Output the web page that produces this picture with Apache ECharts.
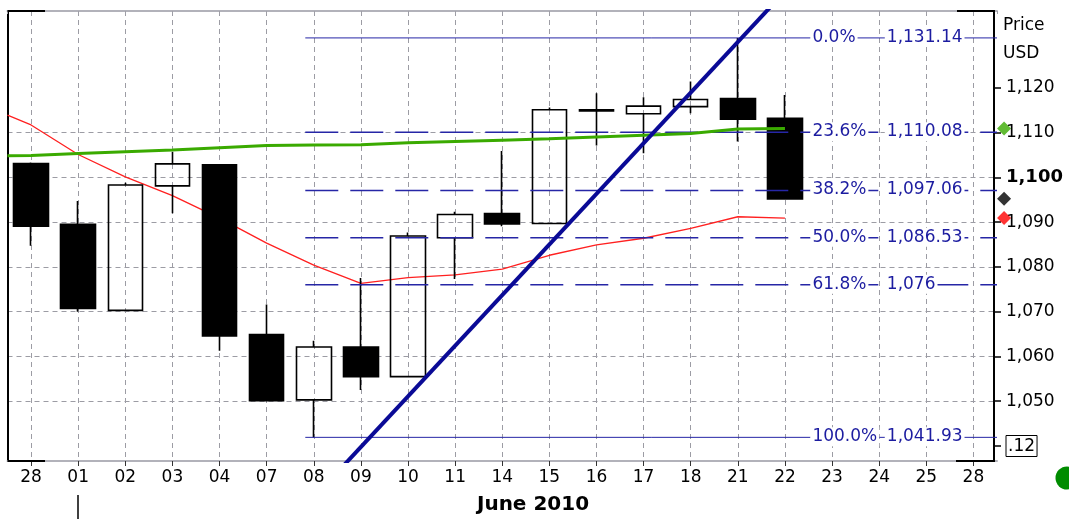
<!DOCTYPE html>
<html>
<head>
<meta charset="utf-8">
<script src="https://cdn.jsdelivr.net/npm/echarts@6/dist/echarts.min.js"></script>
<style>
html,body{margin:0;padding:0;background:#fff;}
#chart{width:1069px;height:519px;}
</style>
</head>
<body>
<div id="chart"></div>
<script>
// ---- data ----
const categories = ['28','01','02','03','04','07','08','09','10','11','14','15','16','17','18','21','22','23','24','25','28'];
const opens  = [1103.1, 1089.5, 1070.3, 1098.1, 1102.8, 1064.9, 1050.3, 1062.1, 1055.5, 1086.5, 1091.9, 1089.7, 1115.1, 1114.2, 1115.8, 1117.6, 1113.2];
const closes = [1089.1, 1070.7, 1098.3, 1103.0, 1064.6, 1050.1, 1062.1, 1055.5, 1086.9, 1091.7, 1089.6, 1115.1, 1114.8, 1115.9, 1117.4, 1113.0, 1095.2];
const lows   = [1084.7, 1070.0, 1070.3, 1092.0, 1061.3, 1050.0, 1041.9, 1052.5, 1055.5, 1077.3, 1089.1, 1089.7, 1107.1, 1105.4, 1114.3, 1108.0, 1095.2];
const highs  = [1103.3, 1094.7, 1098.8, 1105.7, 1102.8, 1071.6, 1063.5, 1077.5, 1087.7, 1092.3, 1105.9, 1115.6, 1118.8, 1117.9, 1121.4, 1131.1, 1118.4];
// moving averages; first value sits at the left edge of the plot (x = -0.5)
const smaLong  = [1104.8, 1104.9, 1105.3, 1105.7, 1106.1, 1106.6, 1107.1, 1107.2, 1107.3, 1107.7, 1108.0, 1108.3, 1108.6, 1109.0, 1109.4, 1109.8, 1110.8, 1110.9];
const smaShort = [1113.9, 1111.7, 1105.1, 1100.1, 1095.9, 1090.9, 1085.3, 1080.4, 1076.3, 1077.6, 1078.2, 1079.5, 1082.6, 1084.9, 1086.4, 1088.6, 1091.2, 1090.9];
// fibonacci retracement
const fibLevels = [1131.14, 1110.08, 1097.06, 1086.53, 1076, 1041.93];
const fibPct    = ['0.0%', '23.6%', '38.2%', '50.0%', '61.8%', '100.0%'];
const fibText   = ['1,131.14', '1,110.08', '1,097.06', '1,086.53', '1,076', '1,041.93'];
const fibSolid  = [true, false, false, false, false, true];
const fibStartX = 5.82;
const fibPctX = 16.55, fibValX = 18.13;
// trend line anchors [index, price]
const trendAnchors = [[7.19, 1041.93], [15.08, 1131.14]];
// y axis ticks
const yTicks = [1040, 1050, 1060, 1070, 1080, 1090, 1100, 1110, 1120];
const yMin = 1036.65, yMax = 1137.15;
const markerX = 20.65;

// ---- build ----
const FONT = 'DejaVu Sans';
const ohlc = categories.map((c, i) => i < opens.length ? [opens[i], closes[i], lows[i], highs[i]] : '-');
const xOf = i => (i === 0 ? -0.5 : i - 1);
const greenData = smaLong.map((v, i) => [xOf(i), v]);
const redData = smaShort.map((v, i) => [xOf(i), v]);
const slope = (trendAnchors[1][1] - trendAnchors[0][1]) / (trendAnchors[1][0] - trendAnchors[0][0]);
const tx0 = 6, tx1 = 17;
const trendData = [[tx0, trendAnchors[0][1] + (tx0 - trendAnchors[0][0]) * slope],
                   [tx1, trendAnchors[0][1] + (tx1 - trendAnchors[0][0]) * slope]];
const FIB = '#2626a6';
const FIBTXT = '#1c1ca0';

function fmtNum(v) { return String(v).replace(/\B(?=(\d{3})+(?!\d))/g, ','); }

const fibSeries = fibLevels.map((v, i) => ({
  type: 'line', xAxisIndex: 1, yAxisIndex: 0, z: 3, silent: true, symbol: 'none',
  data: [[fibStartX, v], [20.5, v]],
  lineStyle: { color: FIB, width: fibSolid[i] ? 1 : 1.5, type: fibSolid[i] ? 'solid' : [33, 12] }
}));
const labelStyle = { show: true, position: [0, 0], align: 'left', verticalAlign: 'middle', opacity: 1,
  color: FIBTXT, fontSize: 17, fontFamily: FONT, backgroundColor: '#fff', padding: [1, 2] };

const option = {
  animation: false,
  backgroundColor: '#fff',
  grid: { left: 7.5, top: 11, width: 989.5, height: 450, show: false, outerBoundsMode: 'none', containLabel: false },
  xAxis: [
    { type: 'category', data: categories, position: 'bottom', boundaryGap: true,
      axisLine: { show: true, lineStyle: { color: '#b2b2ba', width: 2 } },
      axisTick: { show: true, alignWithLabel: true, length: 5, lineStyle: { color: '#333' } },
      axisLabel: { interval: 0, color: '#000', fontSize: 17, fontFamily: FONT, margin: 8 },
      splitLine: { show: false } },
    { type: 'value', min: -0.5, max: 20.5, splitNumber: 21, position: 'top',
      axisLine: { show: true, onZero: false, lineStyle: { color: '#b2b2ba', width: 2 } },
      axisTick: { show: true, inside: true, length: 3, lineStyle: { color: '#a0a0a8' } },
      axisLabel: { show: false },
      splitLine: { show: true, showMinLine: false, showMaxLine: false, lineStyle: { color: '#9c9ca4', type: [5, 4], width: 1 } } }
  ],
  yAxis: [
    { type: 'value', position: 'right', offset: -3, min: yMin, max: yMax, splitNumber: 10,
      axisLine: { show: true, onZero: false, lineStyle: { color: '#000', width: 2 } },
      axisTick: { show: true, length: 7, customValues: yTicks, lineStyle: { color: '#000', width: 1.5 } },
      axisLabel: { customValues: yTicks, margin: 12, color: '#000', fontSize: 17, fontFamily: FONT,
        formatter: v => v === 1100 ? '{b|1,100}' : (v === 1040 ? '{box|.12}' : fmtNum(v)),
        rich: { b: { fontWeight: 'bold', fontSize: 18, fontFamily: FONT, color: '#000' },
                box: { fontSize: 17, fontFamily: FONT, color: '#000', borderColor: '#000', borderWidth: 1, padding: [3, 2, 1, 2] } } },
      splitLine: { show: true, showMinLine: false, showMaxLine: false, lineStyle: { color: '#9c9ca4', type: [5, 4], width: 1 } } },
    { type: 'value', position: 'left', min: yMin, max: yMax, splitNumber: 10,
      axisLine: { show: true, onZero: false, lineStyle: { color: '#000', width: 2 } },
      axisTick: { show: false }, axisLabel: { show: false }, splitLine: { show: false } }
  ],
  series: [
    { type: 'line', name: 'smaShort', xAxisIndex: 1, yAxisIndex: 0, z: 1, silent: true, symbol: 'none',
      data: redData, lineStyle: { color: '#ff2020', width: 1.3 } },
    { type: 'candlestick', xAxisIndex: 0, yAxisIndex: 0, z: 2, silent: true, barWidth: 35, data: ohlc,
      itemStyle: { color: 'transparent', color0: '#000', borderColor: '#000', borderColor0: '#000', borderColorDoji: '#000', borderWidth: 1.6 } },
    ...fibSeries,
    { type: 'line', name: 'smaLong', xAxisIndex: 1, yAxisIndex: 0, z: 4, silent: true, symbol: 'none',
      data: greenData, lineStyle: { color: '#3aaa00', width: 3 } },
    { type: 'line', name: 'trend', xAxisIndex: 1, yAxisIndex: 0, z: 5, silent: true, symbol: 'none', clip: true,
      data: trendData, lineStyle: { color: '#0a0a96', width: 4 } },
    { type: 'scatter', xAxisIndex: 1, yAxisIndex: 0, z: 6, silent: true, symbolSize: 1, clip: false,
      itemStyle: { color: '#fff', opacity: 1 },
      data: fibLevels.map((v, i) => ({ value: [fibPctX, v], label: Object.assign({}, labelStyle, { formatter: fibPct[i] }) })) },
    { type: 'scatter', xAxisIndex: 1, yAxisIndex: 0, z: 6, silent: true, symbolSize: 1, clip: false,
      itemStyle: { color: '#fff', opacity: 1 },
      data: fibLevels.map((v, i) => ({ value: [fibValX, v], label: Object.assign({}, labelStyle, { formatter: fibText[i] }) })) },
    { type: 'scatter', xAxisIndex: 1, yAxisIndex: 0, z: 7, silent: true, symbol: 'diamond', symbolSize: [14, 14], clip: false,
      data: [
        { value: [markerX, smaLong[smaLong.length - 1]], itemStyle: { color: '#3aaa00' } },
        { value: [markerX, closes[closes.length - 1]], itemStyle: { color: '#000' } },
        { value: [markerX, smaShort[smaShort.length - 1]], itemStyle: { color: '#ff0000' } }
      ] }
  ],
  graphic: [
    { type: 'line', shape: { x1: 7.5, y1: 11, x2: 45, y2: 11 }, style: { stroke: '#000', lineWidth: 2 }, z: 100 },
    { type: 'line', shape: { x1: 7.5, y1: 461, x2: 45, y2: 461 }, style: { stroke: '#000', lineWidth: 2 }, z: 100 },
    { type: 'line', shape: { x1: 957, y1: 11, x2: 995, y2: 11 }, style: { stroke: '#000', lineWidth: 2 }, z: 100 },
    { type: 'line', shape: { x1: 956, y1: 461, x2: 995, y2: 461 }, style: { stroke: '#000', lineWidth: 2 }, z: 100 },
    { type: 'line', shape: { x1: 78, y1: 495, x2: 78, y2: 519 }, style: { stroke: '#000', lineWidth: 1.5 } },
    { type: 'text', left: 1003, top: 17, style: { text: 'Price', font: '17px "DejaVu Sans"', fill: '#000' } },
    { type: 'text', left: 1003, top: 45, style: { text: 'USD', font: '17px "DejaVu Sans"', fill: '#000' } },
    { type: 'text', x: 533, y: 495, style: { text: 'June 2010', font: 'bold 20px "DejaVu Sans"', fill: '#000', align: 'center', verticalAlign: 'top' } },
    { type: 'circle', shape: { cx: 1067, cy: 478, r: 11.5 }, style: { fill: '#008c00' } }
  ]
};
const chart = echarts.init(document.getElementById('chart'), null, { renderer: 'canvas' });
chart.setOption(option);
</script>
</body>
</html>
